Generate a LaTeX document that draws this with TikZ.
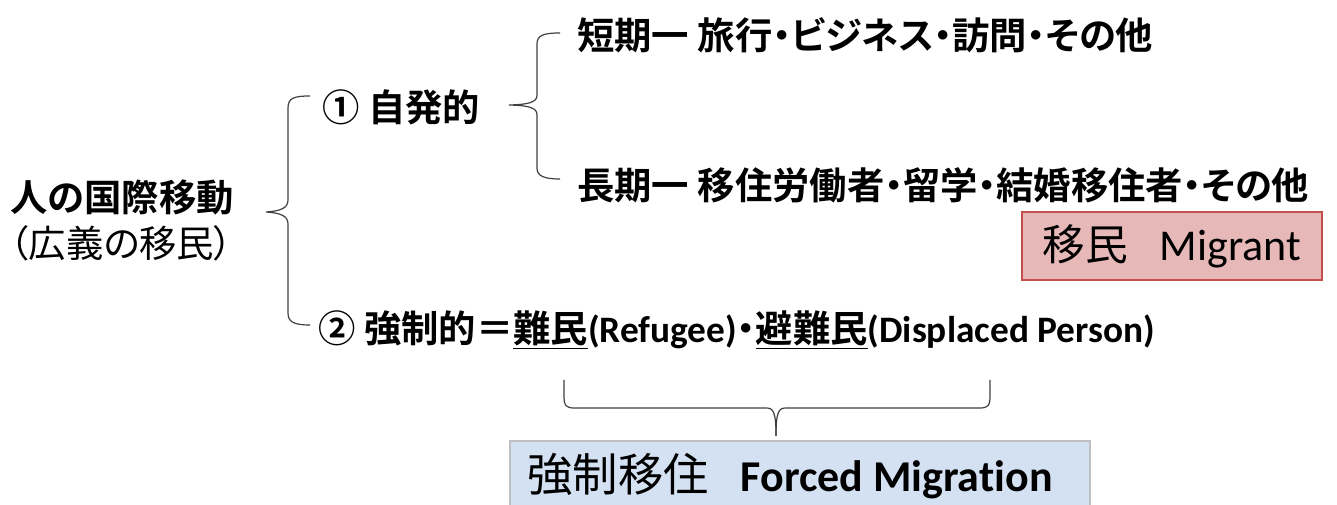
\documentclass[tikz,border=0pt]{standalone}
\usepackage{fontspec}
\setmainfont{Carlito}[RawFeature=-liga]
\newfontfamily\jp[RawFeature=+palt,BoldFont={Noto Sans CJK JP Bold}]{Noto Sans CJK JP}
\definecolor{pinkfill}{HTML}{E6B9B8}
\definecolor{pinkline}{HTML}{C4504D}
\definecolor{bluefill}{HTML}{D4E1F2}
\definecolor{blueline}{HTML}{BFBFBF}
\begin{document}
\begin{tikzpicture}[x=0.75pt,y=-0.75pt,
  lbl/.style={anchor=west,inner sep=0pt,font=\fontsize{28}{32}\selectfont\jp\bfseries},
  brc/.style={draw=black!75,line width=0.9pt},
  box/.style={inner sep=0pt,line width=2.2pt}]
\clip (0,0) rectangle (1337,505);
\fill[white] (0,0) rectangle (1337,505);

\node[lbl] (main) at (10,197) {人の国際移動};
\node[lbl,font=\fontsize{28}{32}\selectfont\jp] (sub) at (10,243) {（広義の移民）};
\node[lbl] (vol) at (322,107) {① 自発的};
\node[lbl] (short) at (577,35) {短期一 旅行・ビジネス・訪問・その他};
\node[lbl] (long) at (577,185) {長期一 移住労働者・留学・結婚移住者・その他};
\node[lbl] (forced) at (318,330) {② 強制的＝\underline{難民}{\normalfont\bfseries(Refugee)}・\underline{避難民}{\normalfont\bfseries(Displaced Person)}};

\node[box,draw=pinkline,fill=pinkfill,minimum width=300*0.75pt,minimum height=68*0.75pt]
  (migrant) at (1172,246) {{\fontsize{32}{36}\selectfont\jp 移民}\hspace{24pt}{\fontsize{33}{36}\selectfont Migrant}};
\node[box,draw=blueline,fill=bluefill,minimum width=580*0.75pt,minimum height=90*0.75pt]
  (fmig) at (800,486) {};
\node[inner sep=0pt] (fmigtxt) at (790,476) {{\fontsize{34}{36}\selectfont\jp 強制移住}\hspace{24pt}{\fontsize{33}{36}\selectfont\bfseries Forced Migration}};

% big brace
\coordinate (b1t) at (310,96);
\coordinate (b1m) at (266,212);
\coordinate (b1b) at (310,325);
\draw[brc] (b1t) .. controls (294,96) and (288,98) .. (288,108) -- (288,200)
  .. controls (288,208) and (281,211) .. (b1m)
  .. controls (281,213) and (288,216) .. (288,224) -- (288,313)
  .. controls (288,322) and (294,325) .. (b1b);
% second brace
\coordinate (b2t) at (560,33);
\coordinate (b2m) at (509,105);
\coordinate (b2b) at (560,179);
\draw[brc] (b2t) .. controls (544,33) and (537,35) .. (537,44) -- (537,95)
  .. controls (537,102) and (530,104.5) .. (b2m)
  .. controls (530,105.5) and (537,108) .. (537,115) -- (537,168)
  .. controls (537,176) and (544,179) .. (b2b);
% bottom brace
\coordinate (b3l) at (564,380);
\coordinate (b3m) at (776,436);
\coordinate (b3r) at (990,380);
\draw[brc] (b3l) -- (564,398) .. controls (564,405) and (566,408) .. (574,408) -- (766,408)
  .. controls (773,408) and (776,411) .. (b3m);
\draw[brc] (b3r) -- (990,398) .. controls (990,405) and (988,408) .. (980,408) -- (786,408)
  .. controls (779,408) and (776,411) .. (b3m);
\end{tikzpicture}
\end{document}
